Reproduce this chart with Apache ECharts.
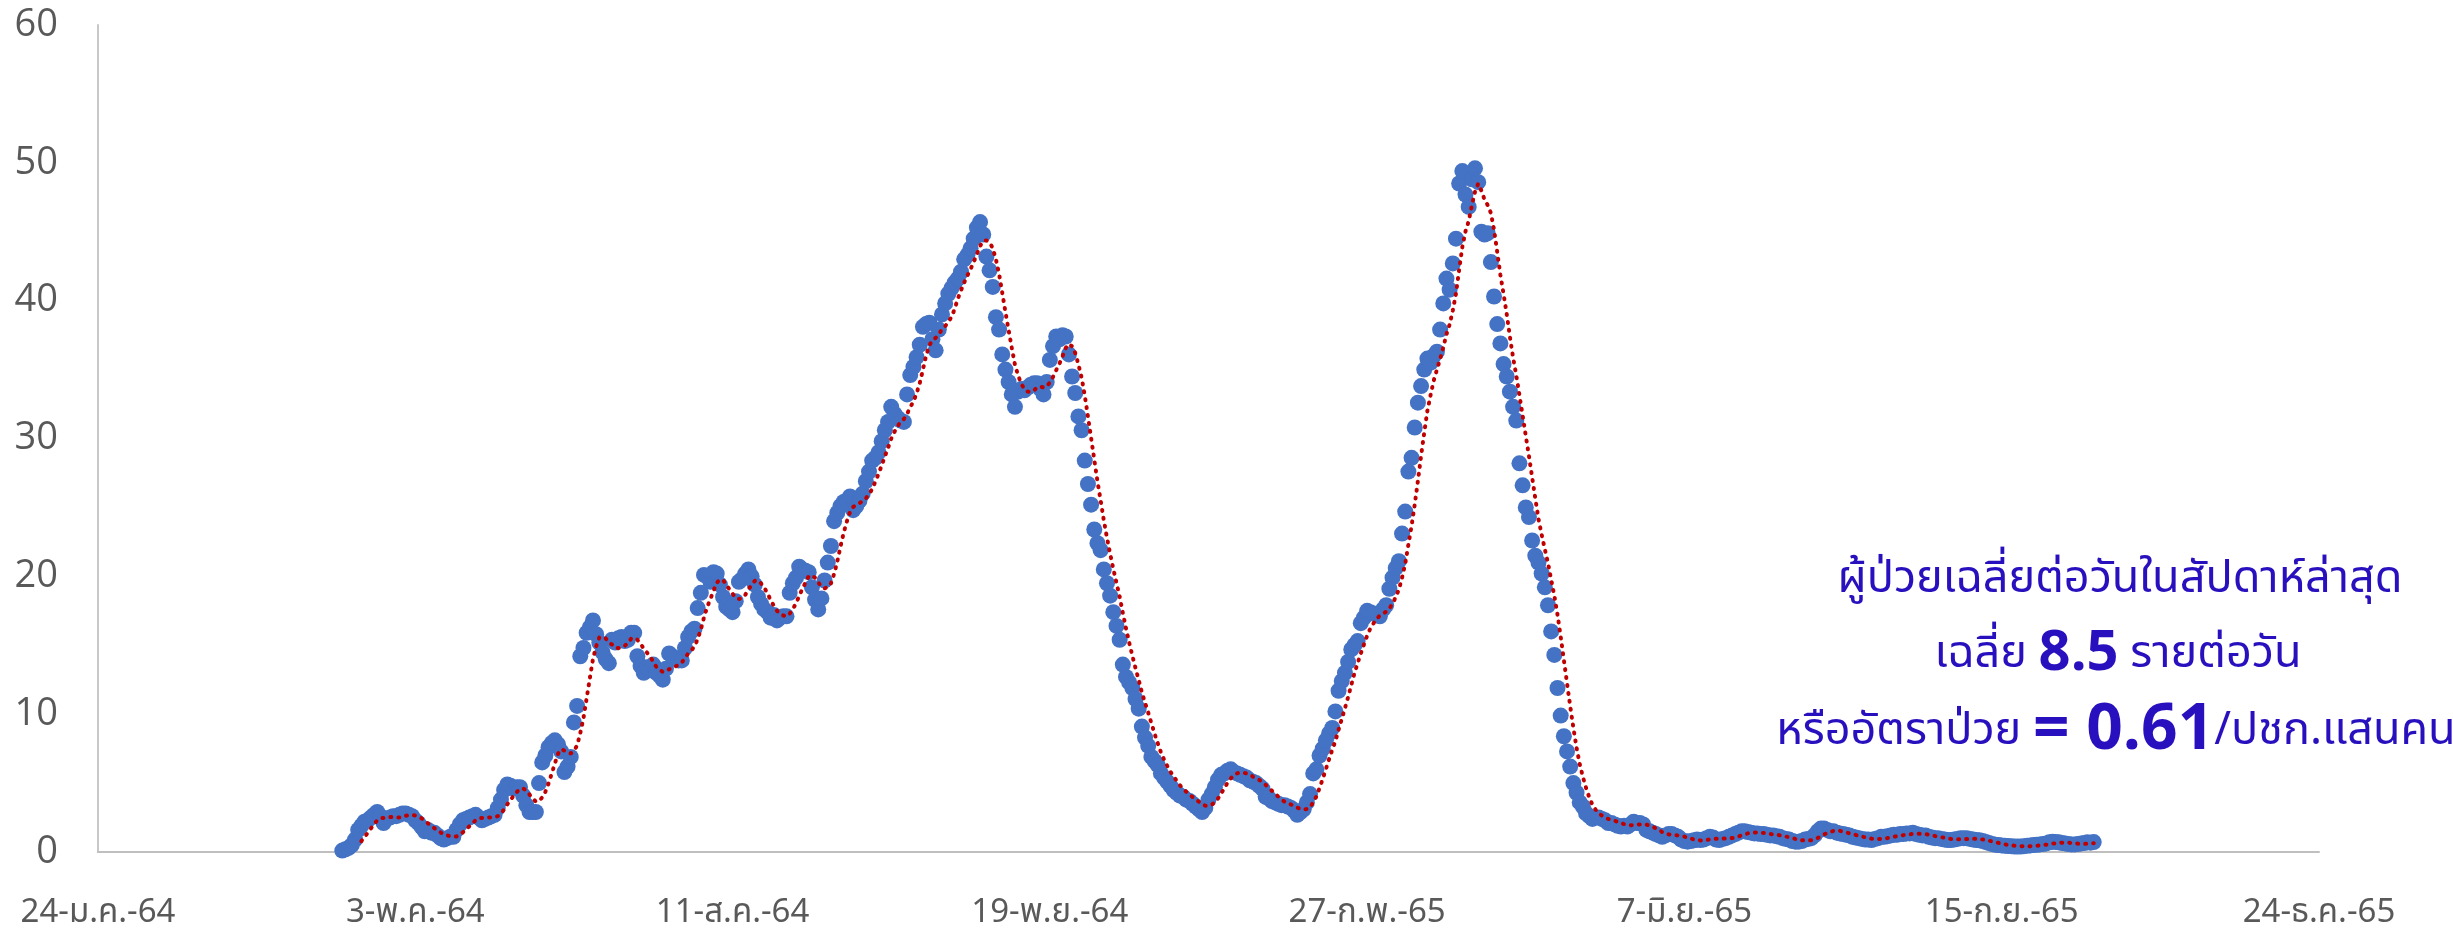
<!DOCTYPE html>
<html><head><meta charset="utf-8">
<script src="https://cdn.jsdelivr.net/npm/echarts@6/dist/echarts.min.js"></script>
<style>html,body{margin:0;padding:0;background:#fff}#c{width:2453px;height:934px}</style>
</head><body><div id="c"></div>
<script>
// X axis: day index counted from 24 Jan 2021; tick labels every 100 days
const tickLabels = ['24-ม.ค.-64','3-พ.ค.-64','11-ส.ค.-64','19-พ.ย.-64','27-ก.พ.-65','7-มิ.ย.-65','15-ก.ย.-65','24-ธ.ค.-65'];
const firstDay = 77; // day index of first value
// daily rate values, one per day from firstDay
const rateA = [0.1,0.2,0.3,0.5,0.9,1.6,1.9,2.2,2.3,2.5,2.7,2.9,2.6,
 2.1,2.4,2.5,2.6,2.6,2.7,2.8,2.8,2.7,2.6,
 2.3,2.1,1.8,1.5,1.6,1.4,1.4,1.2,1.0,0.9,
 1.0,1.1,1.1,1.6,2.0,2.3,2.4,2.5,2.6,2.7,
 2.5,2.3,2.4,2.5,2.6,2.7,3.2,3.8,4.5,4.9,
 4.8,4.6,4.7,4.7,4.1,3.4,2.9,2.9,2.9,5.0,
 6.5,7.0,7.6,7.9,8.1,7.8,7.3,5.8,6.2,6.9,
 9.4,10.6,14.2,14.8,15.9,16.3,16.8,15.8,15.2,14.5,
 14.0,13.7,15.4,15.2,15.5,15.6,15.3,15.4,15.9,15.9,
 14.2,13.5,13.0,13.4,13.2,13.6,13.0,12.8,12.5,13.3,
 14.4,14.2,14.0,13.9,13.9,14.8,15.6,16.0,16.2,17.7];
const rateB = [18.8,20.1,20.0,19.6,20.3,20.2,19.4,18.5,17.8,17.6,
 17.4,18.2,19.6,19.8,20.2,20.5,20.0,19.4,18.5,18.0,
 17.6,17.4,17.0,17.2,16.8,17.0,17.1,17.1,18.8,19.5,
 19.9,20.7,20.5,20.4,20.3,19.2,18.3,17.6,18.4,19.7,
 21.0,22.2,24.0,24.6,25.1,25.4,25.5,25.8,24.8,25.1,
 25.5,26.0,26.9,27.6,28.4,28.6,29.0,29.8,30.6,31.2,
 32.3,31.8,31.5,31.3,31.2,33.2,34.6,35.2,35.9,36.8,
 38.1,38.3,38.4,37.2,36.4,37.9,39.0,39.8,40.5,40.9,
 41.3,41.6,42.1,43.0,43.3,43.8,44.5,45.3,45.7,44.8,
 43.2,42.2,41.0,38.8,37.9,36.1,35.0,34.1,33.2,32.3,
 33.4,33.6,33.5,33.7,33.9,34.0,34.0,33.6,33.2,34.1,
 35.7,36.7,37.4,37.2,37.5,37.4,36.1,34.5,33.3,31.6,
 30.6,28.4,26.7,25.2,23.4,22.4,21.9,20.5,19.5,18.6,
 17.4,16.4,15.4,13.6,12.7,12.3,11.9,11.1,10.4,9.1,
 8.3,7.7,6.9,6.6,6.3,5.7,5.4,5.1,4.8,4.5,
 4.3,4.1,4.0,3.8,3.7,3.5,3.3,3.1,2.9,3.2,
 3.8,4.2,4.7,5.25,5.6,5.7,5.9,6.0,5.8,5.7,
 5.6,5.5,5.4,5.2,5.1,5.0,4.8,4.6,4.0,3.9,
 3.7,3.6,3.5,3.4,3.4,3.3,3.2,3.0,2.7,2.9,
 3.1,3.6,4.2,5.7,6.0,7.0,7.5,8.1,8.6,9.0];
const rateC = [10.2,11.7,12.4,13.0,13.8,14.7,15.0,15.3,16.6,17.0,
 17.5,17.4,17.3,17.2,17.1,17.6,17.9,19.1,19.9,20.6,
 21.1,23.1,24.7,27.6,28.6,30.8,32.6,33.8,35.0,35.8,
 35.5,36.0,36.3,37.9,39.8,41.6,40.8,42.7,44.5,48.5,
 49.4,47.7,46.8,48.8,49.6,48.6,45.0,44.8,44.9,42.8,
 40.3,38.3,36.9,35.4,34.5,33.4,32.3,31.3,28.2,26.6,
 25.0,24.3,22.6,21.5,21.0,20.2,19.2,17.9,16.0,14.3,
 11.9,9.9,8.4,7.3,6.2,5.0,4.3,3.6,3.3,2.8];
const rateD = [2.6,2.4,2.5,2.5,2.4,2.3,2.1,2.1,2.0,1.9,
 1.85,1.9,1.85,2.0,2.2,2.1,2.1,2.0,1.6,1.5,
 1.4,1.3,1.2,1.1,1.2,1.3,1.3,1.2,1.1,0.9,
 0.8,0.75,0.8,0.85,0.9,0.87,0.9,1.0,1.1,1.05,
 0.9,0.87,0.95,1.0,1.1,1.2,1.3,1.4,1.5,1.5,
 1.45,1.4,1.35,1.35,1.3,1.3,1.25,1.2,1.2,1.15,
 1.1,1.0,0.95,0.9,0.8,0.75,0.75,0.8,0.9,0.95,
 1.0,1.2,1.5,1.7,1.7,1.6,1.5,1.5,1.4,1.35,
 1.3,1.25,1.2,1.1,1.05,1.0,0.95,0.9,0.9,0.87,
 0.95,1.0,1.1,1.1,1.15,1.2,1.25,1.25,1.3,1.3,
 1.35,1.35,1.4,1.3,1.25,1.2,1.2,1.1,1.05,1.0,
 1.0,0.95,0.9,0.87,0.87,0.9,0.95,1.0,1.0,1.0,
 0.95,0.9,0.87,0.85,0.8,0.72,0.65,0.58,0.52,0.5,
 0.48,0.45,0.43,0.42,0.4,0.4,0.4,0.42,0.45,0.48,
 0.5,0.52,0.55,0.58,0.62,0.7,0.75,0.72,0.7,0.65,
 0.62,0.58,0.55,0.55,0.58,0.62,0.65,0.7,0.68,0.72];
const values = rateA.concat(rateB, rateC, rateD);
const avgPeriod = 7; // moving-average trendline period

const pts = values.map((v, i) => [firstDay + i, v]);
const trend = [];
for (let i = avgPeriod - 1; i < values.length; i++) {
  let s = 0; for (let k = i - avgPeriod + 1; k <= i; k++) s += values[k];
  trend.push([firstDay + i, s / avgPeriod]);
}

const chart = echarts.init(document.getElementById('c'), null, {renderer: 'canvas'});
const txtColor = '#2810BE';
const thaiFont = '"Noto Sans", "Noto Sans Thai", Tahoma, sans-serif';
const numFont = '"Open Sans", "Noto Sans", sans-serif';
chart.setOption({
  backgroundColor: '#fff',
  animation: false,
  grid: {left: 98, right: 134, top: 25, bottom: 82, containLabel: false},
  xAxis: {
    type: 'value', min: 0, max: 700, interval: 100,
    axisLine: {show: true, lineStyle: {color: '#BFBFBF', width: 2}},
    axisTick: {show: false}, splitLine: {show: false},
    axisLabel: {
      margin: 44, color: '#595959', fontSize: 33, fontFamily: thaiFont,
      formatter: v => tickLabels[Math.round(v / 100)] || ''
    }
  },
  yAxis: {
    type: 'value', min: 0, max: 60, interval: 10,
    axisLine: {show: true, lineStyle: {color: '#C8C8C8', width: 2}},
    axisTick: {show: false}, splitLine: {show: false},
    axisLabel: {margin: 40, color: '#595959', fontSize: 38, fontFamily: numFont}
  },
  series: [
    {type: 'scatter', data: pts, symbol: 'circle', symbolSize: 16,
     itemStyle: {color: '#4472C4', opacity: 1}, z: 2},
    {type: 'line', data: trend, showSymbol: false, symbol: 'none', smooth: false,
     lineStyle: {color: '#C00000', width: 4, type: [1, 7], cap: 'round'}, z: 3}
  ],
  graphic: [
    {type: 'text', z: 10,
     style: {x: 2120, y: 579, text: 'ผู้ป่วยเฉลี่ยต่อวันในสัปดาห์ล่าสุด', fill: txtColor,
       font: '45px ' + thaiFont, textAlign: 'center', textVerticalAlign: 'middle'}},
    {type: 'text', z: 10,
     style: {x: 2118, y: 654, textAlign: 'center', textVerticalAlign: 'middle',
       text: '{a|เฉลี่ย }{b|8.5}{a| รายต่อวัน}',
       rich: {a: {fontSize: 45, fill: txtColor, fontFamily: thaiFont},
              b: {fontSize: 56, fontWeight: 'bold', fill: txtColor, fontFamily: numFont}}}},
    {type: 'text', z: 10,
     style: {x: 2116, y: 731, textAlign: 'center', textVerticalAlign: 'middle',
       text: '{a|หรืออัตราป่วย }{b|= 0.61}{a|/ปชก.แสนคน}',
       rich: {a: {fontSize: 45, fill: txtColor, fontFamily: thaiFont},
              b: {fontSize: 64, fontWeight: 'bold', fill: txtColor, fontFamily: numFont}}}}
  ]
});
</script></body></html>
